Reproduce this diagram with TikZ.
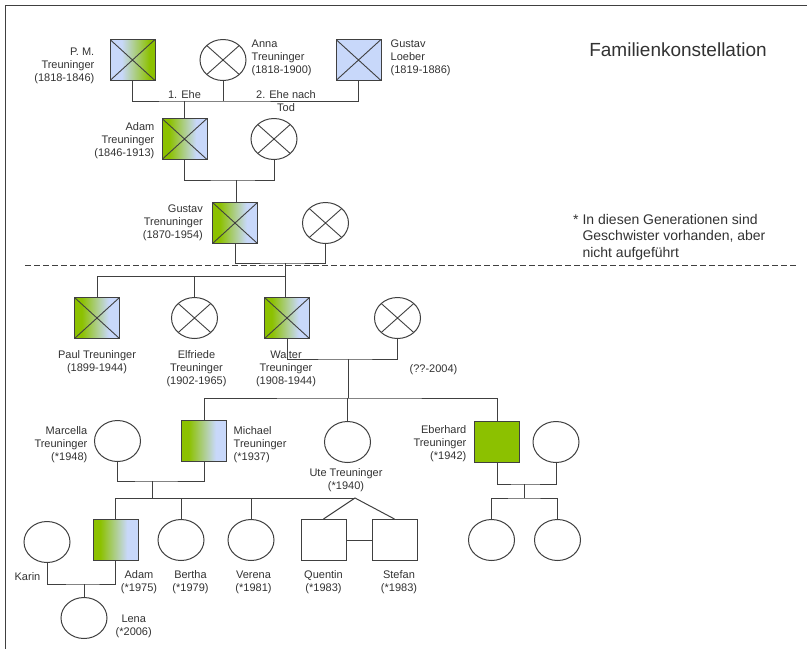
\documentclass[tikz,border=0pt]{standalone}
\usepackage{fontspec}
\setmainfont{Liberation Sans}
\usetikzlibrary{positioning,shapes.geometric}
\definecolor{kgreen}{RGB}{140,193,0}
\definecolor{kblue}{RGB}{200,216,250}
\definecolor{linegray}{RGB}{64,64,64}
\definecolor{textgray}{RGB}{50,50,50}
\pgfdeclarehorizontalshading{greenblue}{100bp}{color(0bp)=(kgreen); color(33bp)=(kgreen); color(63bp)=(kblue); color(100bp)=(kblue)}
\pgfdeclarehorizontalshading{bluegreen}{100bp}{color(0bp)=(kblue); color(38bp)=(kblue); color(69bp)=(kgreen); color(100bp)=(kgreen)}
\tikzset{
  male/.style={rectangle, draw=linegray, line width=1pt, minimum width=45pt, minimum height=41pt, inner sep=0pt},
  female/.style={ellipse, draw=linegray, line width=1pt, minimum width=46pt, minimum height=41pt, inner sep=0pt},
  dead/.style={path picture={\draw[linegray, line width=0.9pt] (path picture bounding box.north west) -- (path picture bounding box.south east) (path picture bounding box.south west) -- (path picture bounding box.north east);}},
  gb/.style={shade, shading=greenblue},
  bg/.style={shade, shading=bluegreen},
  lbl/.style={inner sep=0pt, text=textgray, font=\fontsize{11}{13}\selectfont},
  lblr/.style={lbl, align=right},
  lbll/.style={lbl, align=left},
  lblc/.style={lbl, align=center},
  link/.style={draw=linegray, line width=1pt},
}

\begin{document}
\begin{tikzpicture}[x=1pt, y=-1pt]
		\useasboundingbox (0,0) rectangle (807,649);
		\draw[link] (807,5) -- (5,5) -- (5,649);
		\node[text=textgray, inner sep=0pt, font=\fontsize{19}{23}\selectfont] (title) at (678,49.5) {Familienkonstellation};
		\node[lbll, anchor=north west, font=\fontsize{14}{16.5}\selectfont] (note) at (573,214) {* In diesen Generationen sind\\\hphantom{* }Geschwister vorhanden, aber\\\hphantom{* }nicht aufgeführt};
		\draw[link, dash pattern=on 6pt off 3pt] (25,265) -- (797,265);

		\node[male, bg, dead] (pm) at (132.5,60) {};
		\node[female, dead, right=44pt of pm] (anna) {};
		\node[male, fill=kblue, dead, right=89pt of anna] (gl) {};
		\node[lblr, left=15pt of pm, yshift=-5.5pt] {P. M.\\Treuninger\\(1818-1846)};
		\node[lbll, right=5pt of anna, yshift=2pt] {Anna\\Treuninger\\(1818-1900)};
		\node[lbll, right=9pt of gl, yshift=2pt] {Gustav\\Loeber\\(1819-1886)};

		\node[male, gb, dead] (adam) at (184.5,139) {};
		\node[female, dead, right=43pt of adam] (adamw) {};
		\node[lblr, left=7pt of adam, yshift=-2pt] {Adam\\Treuninger\\(1846-1913)};

		\node[male, gb, dead] (gustav) at (235,223) {};
		\node[female, dead, right=44pt of gustav] (gustavw) {};
		\node[lblr, left=9pt of gustav] {Gustav\\Trenuninger\\(1870-1954)};

		\node[male, gb, dead] (paul) at (97,318) {};
		\node[female, dead, right=51pt of paul] (elfriede) {};
		\node[male, gb, dead, right=46pt of elfriede] (walter) {};
		\node[female, dead, right=64pt of walter] (walterw) {};
		\node[lblc, below=11pt of paul] {Paul Treuninger\\(1899-1944)};
		\node[lblc, below=11pt of elfriede, xshift=2pt] {Elfriede\\Treuninger\\(1902-1965)};
		\node[lblc, below=11pt of walter, xshift=-1pt] {Walter\\Treuninger\\(1908-1944)};
		\node[lblc, below=25pt of walterw, xshift=36pt] {(??-2004)};

		\node[male, gb] (michael) at (204,441) {};
		\node[female, left=40pt of michael] (marcella) {};
		\node[female] (ute) at (347.5,442) {};
		\node[male, fill=kgreen] (eberhard) at (497,442) {};
		\node[female, right=12.5pt of eberhard] (eberhardw) {};
		\node[lblr, left=6.5pt of marcella, yshift=-4pt] {Marcella\\Treuninger\\(*1948)};
		\node[lbll, right=6.5pt of michael, yshift=-4pt] {Michael\\Treuninger\\(*1937)};
		\node[lblc, below=5.5pt of ute, xshift=-1.5pt] {Ute Treuninger\\(*1940)};
		\node[lblr, left=7.5pt of eberhard, yshift=-2pt] {Eberhard\\Treuninger\\(*1942)};

		\node[male, gb] (adamj) at (115.5,540) {};
		\node[female, left=22pt of adamj, yshift=-2pt] (karin) {};
		\node[female, right=19pt of adamj] (bertha) {};
		\node[female, right=23pt of bertha] (verena) {};
		\node[male, right=26pt of verena] (quentin) {};
		\node[male, right=25pt of quentin] (stefan) {};
		\node[female] (lena) at (84,618) {};
		\node[female] (ek1) at (491.5,540) {};
		\node[female, right=19pt of ek1] (ek2) {};
		\node[lbl, below=9.5pt of karin, xshift=-19.5pt] {Karin};
		\node[lblc, below=9.5pt of adamj, xshift=23.5pt] {Adam\\(*1975)};
		\node[lblc, below=9.5pt of bertha, xshift=9.5pt] {Bertha\\(*1979)};
		\node[lblc, below=9.5pt of verena, xshift=2.5pt] {Verena\\(*1981)};
		\node[lblc, below=9.5pt of quentin] {Quentin\\(*1983)};
		\node[lblc, below=9.5pt of stefan, xshift=4.5pt] {Stefan\\(*1983)};
		\node[lblc, right=8pt of lena, yshift=-8pt] {Lena\\(*2006)};

		\coordinate (e1) at (184.5,101);
		\draw[link] (pm.south) |- (e1) -| (gl.south);
		\draw[link] (anna.south) -- (anna.south |- e1);
		\draw[link] (e1) -- (adam.north);
		\node[lbl, above=2.5pt of e1] {1. Ehe};
		\node[lblc] at (286,101) {2. Ehe nach\\Tod};

		\coordinate (e2) at (236,180);
		\draw[link] (adam.south) |- (e2) -| (adamw.south);
		\draw[link] (e2) -- (e2 |- gustav.north);

		\coordinate (e3) at (285,263);
		\coordinate (s4) at (285,276);
		\draw[link] (gustav.south) |- (e3) -| (gustavw.south);
		\draw[link] (e3) -- (e3 |- walter.north);
		\draw[link] (paul.north) |- (s4);
		\draw[link] (elfriede.north) -- (elfriede.north |- s4);

		\coordinate (e4) at (348,359);
		\coordinate (s5) at (348,398);
		\draw[link] (walter.south) |- (e4) -| (walterw.south);
		\draw[link] (e4) -- (s5);
		\draw[link] (michael.north) |- (s5) -| (eberhard.north);
		\draw[link] (ute.north) -- (ute.north |- s5);

		\coordinate (e5) at (152,481);
		\coordinate (s6) at (152,498);
		\coordinate (tw) at (355,498);
		\draw[link] (marcella.south) |- (e5) -| (michael.south);
		\draw[link] (e5) -- (s6);
		\draw[link] (adamj.north) |- (tw);
		\draw[link] (bertha.north) -- (bertha.north |- tw);
		\draw[link] (verena.north) -- (verena.north |- tw);
		\draw[link] (quentin.north) -- (tw) -- (stefan.north);
		\draw[link] (quentin) -- (stefan);

		\coordinate (f5) at (524,484);
		\coordinate (f6) at (524,498);
		\draw[link] (eberhard.south) |- (f5) -| (eberhardw.south);
		\draw[link] (f5) -- (f6);
		\draw[link] (ek1.north) |- (f6) -| (ek2.north);

		\coordinate (e6) at (84,584);
		\draw[link] (karin.south) |- (e6) -| (adamj.south);
		\draw[link] (e6) -- (lena.north);
	\end{tikzpicture}
\end{document}
